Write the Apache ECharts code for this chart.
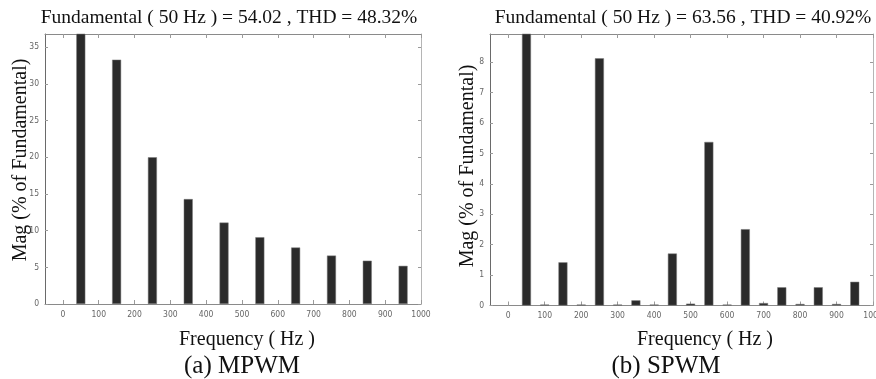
<!DOCTYPE html>
<html>
<head>
<meta charset="utf-8">
<script src="https://cdn.jsdelivr.net/npm/echarts@6/dist/echarts.min.js"></script>
<style>
html,body{margin:0;padding:0;background:#fff;}
#c{width:876px;height:379px;}
</style>
</head>
<body>
<div id="c"></div>
<script>
// ---- data ----
const titleA = 'Fundamental ( 50 Hz ) = 54.02 , THD = 48.32%';
const titleB = 'Fundamental ( 50 Hz ) = 63.56 , THD = 40.92%';
const captionA = '(a) MPWM';
const captionB = '(b) SPWM';
const xName = 'Frequency ( Hz )';
const yName = 'Mag (% of Fundamental)';

const freqsA = [50, 150, 250, 350, 450, 550, 650, 750, 850, 950];
const magsA  = [100, 33.3, 20.0, 14.3, 11.1, 9.1, 7.7, 6.6, 5.9, 5.2];

const freqsB = [50, 100, 150, 200, 250, 300, 350, 400, 450, 500, 550, 600, 650, 700, 750, 800, 850, 900, 950];
const magsB  = [100, 0.03, 1.42, 0.03, 8.13, 0.03, 0.17, 0.03, 1.71, 0.06, 5.38, 0.03, 2.51, 0.08, 0.6, 0.05, 0.6, 0.05, 0.78];

const xTicks  = [0, 100, 200, 300, 400, 500, 600, 700, 800, 900, 1000];
const yTicksA = [0, 5, 10, 15, 20, 25, 30, 35];
const yTicksB = [0, 1, 2, 3, 4, 5, 6, 7, 8];
const xRange  = [-50, 1000];
const yMaxA = 36.8;
const yMaxB = 8.93;

// ---- chart ----
const serif = 'Liberation Serif, Times New Roman, serif';
const tickFont = 'DejaVu Sans Condensed, Liberation Sans Narrow, Roboto, sans-serif';
const frame = '#8a8a8a';

function xAx(gi, pos, labels) {
  return {
    type: 'value', gridIndex: gi, position: pos, min: xRange[0], max: xRange[1],
    axisLine: {show: true, onZero: false, lineStyle: {color: frame, width: 1}},
    axisTick: {show: true, inside: true, length: 4, customValues: xTicks, lineStyle: {color: '#9a9a9a'}},
    axisLabel: {show: labels, customValues: xTicks, formatter: v => String(v),
                fontFamily: tickFont, fontSize: 8.5, color: '#666', margin: 6},
    splitLine: {show: false}
  };
}
function yAx(gi, pos, max, ticks, labels) {
  return {
    type: 'value', gridIndex: gi, position: pos, min: 0, max: max,
    axisLine: {show: true, onZero: false, lineStyle: {color: pos === 'left' ? '#6a6a6a' : '#b5b5b5', width: 1}},
    axisTick: {show: true, inside: true, length: 3, customValues: ticks, lineStyle: {color: '#9a9a9a'}},
    axisLabel: {show: labels, customValues: ticks, formatter: v => String(v),
                fontFamily: tickFont, fontSize: 8.5, color: '#666', margin: 6},
    splitLine: {show: false}
  };
}

const barStyle = {color: '#2b2b2b', borderColor: '#7a7a7a', borderWidth: 0.5};

const chart = echarts.init(document.getElementById('c'), null, {renderer: 'canvas'});
chart.setOption({
  animation: false,
  backgroundColor: '#fff',
  grid: [
    {left: 45, top: 34, width: 376, height: 270, outerBoundsMode: 'none', containLabel: false},
    {left: 490, top: 34, width: 383, height: 271.5, outerBoundsMode: 'none', containLabel: false}
  ],
  xAxis: [xAx(0, 'bottom', true), xAx(0, 'top', false), xAx(1, 'bottom', true), xAx(1, 'top', false)],
  yAxis: [yAx(0, 'left', yMaxA, yTicksA, true), yAx(0, 'right', yMaxA, yTicksA, false),
          yAx(1, 'left', yMaxB, yTicksB, true), yAx(1, 'right', yMaxB, yTicksB, false)],
  series: [
    {type: 'bar', xAxisIndex: 0, yAxisIndex: 0, barWidth: 9, itemStyle: barStyle,
     data: freqsA.map((f, i) => [f, magsA[i]]), clip: true},
    {type: 'bar', xAxisIndex: 2, yAxisIndex: 2, barWidth: 9, itemStyle: barStyle,
     data: freqsB.map((f, i) => [f, magsB[i]]), clip: true}
  ],
  graphic: [
    {type: 'text', x: 229, y: 18, style: {text: titleA, font: '19.5px ' + serif, fill: '#111', align: 'center', verticalAlign: 'middle'}},
    {type: 'text', x: 683, y: 18, style: {text: titleB, font: '19.5px ' + serif, fill: '#111', align: 'center', verticalAlign: 'middle'}},
    {type: 'text', x: 21, y: 160, rotation: Math.PI / 2,
     style: {text: yName, font: '20px ' + serif, fill: '#111', align: 'center', verticalAlign: 'middle'}},
    {type: 'text', x: 468, y: 166, rotation: Math.PI / 2,
     style: {text: yName, font: '20px ' + serif, fill: '#111', align: 'center', verticalAlign: 'middle'}},
    {type: 'text', x: 247, y: 340, style: {text: xName, font: '20px ' + serif, fill: '#111', align: 'center', verticalAlign: 'middle'}},
    {type: 'text', x: 705, y: 340, style: {text: xName, font: '20px ' + serif, fill: '#111', align: 'center', verticalAlign: 'middle'}},
    {type: 'text', x: 242, y: 366, style: {text: captionA, font: '25px ' + serif, fill: '#111', align: 'center', verticalAlign: 'middle'}},
    {type: 'text', x: 666, y: 366, style: {text: captionB, font: '25px ' + serif, fill: '#111', align: 'center', verticalAlign: 'middle'}}
  ]
});
</script>
</body>
</html>
